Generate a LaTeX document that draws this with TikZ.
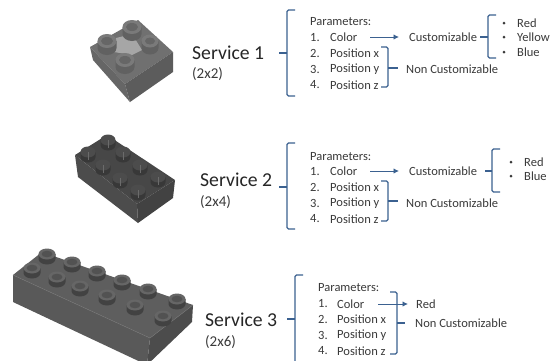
\documentclass[tikz,border=0pt]{standalone}
\usepackage{fontspec}
\setmainfont{Carlito}
\usetikzlibrary{arrows.meta}
\definecolor{brk}{HTML}{3B6190}
\definecolor{txt}{HTML}{3A3A3A}
\tikzset{
 lbl/.style={inner sep=0pt,anchor=west,text=txt,font=\fontsize{12.5}{14}\selectfont},
 svc/.style={inner sep=0pt,anchor=west,text=black!85,font=\fontsize{19.7}{22}\selectfont},
 sub/.style={inner sep=0pt,anchor=west,text=txt,font=\fontsize{15}{17}\selectfont},
 brace/.style={draw=brk,line width=1.1pt,rounded corners=1.5pt},
 arr/.style={draw=brk,line width=0.9pt,-{Latex[length=5.5pt,width=5.5pt]}},
 tick/.style={draw=brk,line width=1.1pt},
 dotb/.style={circle,fill=txt,inner sep=0pt,minimum size=3pt},
 face/.style={draw=none}
}
\newcommand{\studA}[7]{% x y rx ry height sideColor topColor
 \fill[#6] (#1-#3,#2) -- (#1-#3,#2+#5) arc[start angle=180,end angle=0,x radius=#3,y radius=#4] -- (#1+#3,#2) -- cycle;
 \fill[#7] (#1,#2) ellipse[x radius=#3,y radius=#4];
}
\begin{document}
\begin{tikzpicture}[x=1pt,y=-1pt]
\useasboundingbox (0,0) rectangle (550,360);
\clip (0,0) rectangle (550,360);
\fill[white] (0,0) rectangle (550,360);
% ---- brick 1
\fill[face,fill=black!56] (90,47) -- (138,20) -- (173,52) -- (125,84) -- cycle;
\fill[face,fill=black!60] (90,47) -- (125,84) -- (130,102) -- (93,60) -- cycle;
\fill[face,fill=black!64] (125,84) -- (173,52) -- (173,72) -- (130,102) -- cycle;
\fill[black!35] (116,38) -- (132,34) -- (142,50) -- (132,55) -- (114,52) -- cycle;
\studA{107}{41}{9.5}{7}{7}{black!62}{black!52}
\fill[black!60] (107,41) ellipse[x radius=6,y radius=4];
\studA{132}{27}{9.5}{7}{7}{black!62}{black!52}
\fill[black!60] (132,27) ellipse[x radius=6,y radius=4];
\studA{150}{41}{8.5}{6.5}{7}{black!62}{black!52}
\fill[black!60] (150,41) ellipse[x radius=5,y radius=3.5];
\studA{125}{60}{9.5}{7}{7}{black!62}{black!52}
\fill[black!60] (125,60) ellipse[x radius=6,y radius=4];
% ---- brick 2
\fill[face,fill=black!72] (75,155) -- (107,135) -- (175,180) -- (137,204) -- cycle;
\fill[face,fill=black!70] (75,155) -- (137,204) -- (138,223) -- (78,177) -- cycle;
\fill[face,fill=black!74] (137,204) -- (175,180) -- (173,198) -- (138,223) -- cycle;
\foreach \sx/\sy in {108/140,88/152,123/152,103/165,140/165,120/178,158/177,138/190}{
  \studA{\sx}{\sy}{7.5}{5.5}{5}{black!78}{black!70}
  \draw[black!58,line width=0.6pt] (\sx,\sy) -- (\sx,\sy+8);
}
% ---- brick 3
\fill[face,fill=black!63] (13,275) -- (42,252) -- (193,305) -- (150,338) -- cycle;
\fill[face,fill=black!65] (13,275) -- (150,338) -- (147,365) -- (13,302) -- cycle;
\fill[face,fill=black!70] (150,338) -- (193,305) -- (192,322) -- (147,365) -- cycle;
\draw[black!55,line width=0.5pt] (13,275) -- (150,338) -- (193,305);
\foreach \sx/\sy in {47/254,72/262,97/271,122/280,148/289,177/299,32/268,57/277,80/286,107/295,135/305,163/316}{
  \studA{\sx}{\sy}{8.5}{5.5}{5}{black!74}{black!60}
  \fill[black!68] (\sx,\sy) ellipse[x radius=5.5,y radius=3.3];
}
% ---- service labels
\node[svc] (s1) at (192,53) {Service 1};
\node[sub] (s1d) at (192,74) {(2x2)};
\node[svc] (s2) at (200,180) {Service 2};
\node[sub] (s2d) at (200,202) {(2x4)};
\node[svc] (s3) at (205,320) {Service 3};
\node[sub] (s3d) at (205,342) {(2x6)};
% ---- group 1
\node[lbl] (p1) at (310,22) {Parameters:};
\node[lbl] (n1a) at (310,37.5) {1.};\node[lbl] (c1) at (330,37.5) {Color};
\node[lbl] (n1b) at (310,53) {2.};\node[lbl] (x1) at (330,53) {Position x};
\node[lbl] (n1c) at (310,69) {3.};\node[lbl] (y1) at (330,69) {Position y};
\node[lbl] (n1d) at (310,85) {4.};\node[lbl] (z1) at (330,85) {Position z};
\node[lbl] (cu1) at (409,37) {Customizable};
\node[lbl] (nc1) at (406,69) {Non Customizable};
\node[dotb] (b1a) at (504,23) {};\node[lbl] (t1a) at (517,23) {Red};
\node[dotb] (b1b) at (504,37) {};\node[lbl] (t1b) at (517,37) {Yellow};
\node[dotb] (b1c) at (504,52) {};\node[lbl] (t1c) at (517,52) {Blue};
\draw[brace] (295,10) -- (287,10) -- (287,96) -- (295,96);
\draw[tick] (279,53) -- (287,53);
\draw[arr] (370,37) -- (399,37);
\draw[brace] (381,47) -- (388,47) -- (388,87) -- (381,87);
\draw[tick] (388,68) -- (398,68);
\draw[brace] (496,15) -- (488,15) -- (488,58) -- (496,58);
\draw[tick] (480,37) -- (488,37);
% ---- group 2
\node[lbl] (p2) at (310,157) {Parameters:};
\node[lbl] (n2a) at (310,171.5) {1.};\node[lbl] (c2) at (330,171.5) {Color};
\node[lbl] (n2b) at (310,187) {2.};\node[lbl] (x2) at (330,187) {Position x};
\node[lbl] (n2c) at (310,203) {3.};\node[lbl] (y2) at (330,203) {Position y};
\node[lbl] (n2d) at (310,219) {4.};\node[lbl] (z2) at (330,219) {Position z};
\node[lbl] (cu2) at (409,171) {Customizable};
\node[lbl] (nc2) at (406,203) {Non Customizable};
\node[dotb] (b2a) at (511,162) {};\node[lbl] (t2a) at (524,162) {Red};
\node[dotb] (b2b) at (511,176) {};\node[lbl] (t2b) at (524,176) {Blue};
\draw[brace] (295,143) -- (287,143) -- (287,229) -- (295,229);
\draw[tick] (279,187) -- (287,187);
\draw[arr] (370,171) -- (399,171);
\draw[brace] (381,181) -- (388,181) -- (388,221) -- (381,221);
\draw[tick] (388,201) -- (398,201);
\draw[brace] (500,149) -- (492,149) -- (492,192) -- (500,192);
\draw[tick] (485,171) -- (492,171);
% ---- group 3
\node[lbl] (p3) at (318,288) {Parameters:};
\node[lbl] (n3a) at (318,304) {1.};\node[lbl] (c3) at (337,304) {Color};
\node[lbl] (n3b) at (318,319) {2.};\node[lbl] (x3) at (337,319) {Position x};
\node[lbl] (n3c) at (318,335) {3.};\node[lbl] (y3) at (337,335) {Position y};
\node[lbl] (n3d) at (318,351) {4.};\node[lbl] (z3) at (337,351) {Position z};
\node[lbl] (r3) at (416,304) {Red};
\node[lbl] (nc3) at (415,323) {Non Customizable};
\draw[brace] (303,275) -- (295,275) -- (295,375) -- (303,375);
\draw[tick] (287,319) -- (295,319);
\draw[arr] (378,304) -- (408,304);
\draw[brace] (390,292) -- (397,292) -- (397,354) -- (390,354);
\draw[tick] (397,323) -- (405,323);
\end{tikzpicture}
\end{document}
